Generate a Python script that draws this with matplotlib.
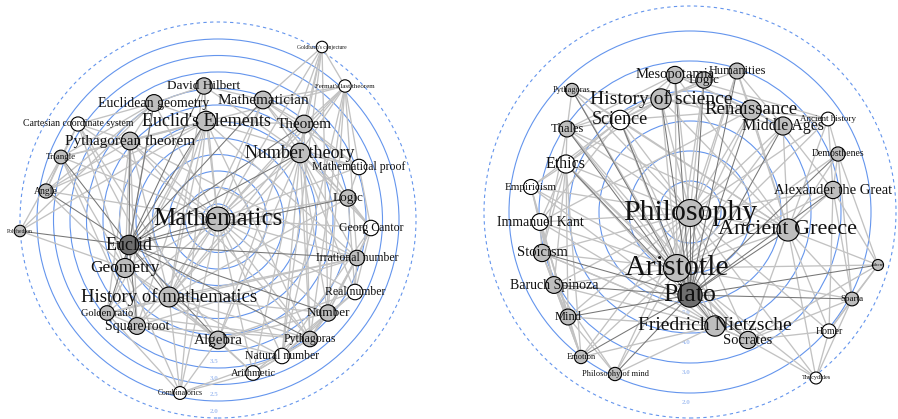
import numpy as np
import matplotlib
matplotlib.use("Agg")
import matplotlib.pyplot as plt
from matplotlib.patches import Circle

plt.rcParams['font.family'] = ['Liberation Serif', 'DejaVu Serif']

# ---- left network: mathematics ----
math_names = ["Mathematics", "Euclid", "Geometry", "History of mathematics",
	"Euclid's Elements", "Number theory", "Pythagorean theorem", "Euclidean geometry",
	"Mathematician", "David Hilbert", "Theorem", "Mathematical proof", "Logic",
	"Cartesian coordinate system", "Triangle", "Angle", "Goldbach's conjecture",
	"Fermat's last theorem", "Georg Cantor", "Polyhedron", "Irrational number",
	"Real number", "Golden ratio", "Number", "Square root", "Algebra", "Pythagoras",
	"Natural number", "Arithmetic", "Combinatorics"]
math_x = [0, -89, -93, -49, -12, 82, -88, -64, 45, -14, 86, 141, 130, -140, -157,
	-172, 104, 127, 153, -198, 139, 137, -111, 110, -81, 0, 92, 64, 35, -38]
math_y = [1, -25, -48, -77, 99, 67, 79, 117, 120, 134, 96, 53, 22, 96, 63,
	29, 173, 134, -8, -11, -38, -72, -93, -93, -106, -120, -119, -136, -153, -173]
# 0 = not in set, 1 = in set, 2 = focus
math_kind = [1, 2, 1, 1, 1, 1, 1, 1, 1, 1, 1, 0, 1, 0, 1, 1, 0, 0, 0, 1,
	1, 0, 1, 1, 1, 1, 1, 0, 0, 0]
math_degree = [36, 26, 25, 27, 26, 26, 22, 20, 22, 19, 22, 17, 19, 14, 13, 14, 8,
	10, 17, 8, 17, 17, 15, 19, 20, 22, 17, 17, 15, 11]
math_focus = 1
math_edges = {
	0: [2, 3, 4, 5, 6, 7, 8, 9, 10, 11, 12, 13, 14, 15, 16, 17, 18, 20, 21, 22, 23, 24, 25, 26, 27, 28, 29],
	1: [0, 2, 3, 4, 5, 6, 7, 8, 9, 10, 12, 14, 15, 19, 20, 22, 23, 24, 25, 26],
	2: [4, 6, 7, 13, 14, 15, 19, 22, 24, 25, 29],
	3: [2, 4, 5, 6, 8, 9, 12, 13, 17, 20, 22, 23, 24, 25, 26, 27, 28, 29],
	4: [6, 7, 9, 10, 11, 14, 15, 19, 20, 22, 24, 26, 29],
	5: [8, 9, 10, 11, 12, 16, 17, 18, 20, 21, 23, 25, 26, 27, 28],
	6: [7, 13, 14, 15, 17, 20, 22, 24, 26],
	7: [9, 13, 14, 15, 19],
	8: [9, 10, 11, 16, 17, 18],
	10: [11, 12, 16, 17, 26],
	11: [12, 17, 18],
	12: [18, 21],
	13: [14, 15, 25],
	14: [15, 19, 24],
	16: [17, 23, 25, 27],
	17: [20, 23, 26, 27],
	18: [20, 21, 23, 27],
	20: [21, 22, 23, 24, 26],
	21: [23, 25, 27],
	22: [24, 26, 29],
	23: [25, 26, 27, 28],
	25: [24, 27, 28, 29],
	26: [24, 27, 28],
	27: [28, 29],
	28: [29],
}
math_rings = [2.0, 2.5, 3.0, 3.5, 4.0, 4.5, 5.0, 5.5, 6.0, 6.5, 7.0, 7.5]
math_ring_labels = [2.0, 2.5, 3.0, 3.5]

# ---- right network: philosophy ----
phil_names = ["Philosophy", "Aristotle", "Plato", "Ancient Greece", "Friedrich Nietzsche",
	"History of science", "Science", "Renaissance", "Middle Ages", "Socrates",
	"Mesopotamia", "Logic", "Humanities", "Immanuel Kant", "Stoicism", "Baruch Spinoza",
	"Mind", "Ethics", "Thales", "Alexander the Great", "Empiricism", "Homer", "Sparta",
	"Demosthenes", "Ancient history", "Pythagoras", "Emotion", "Philosophy of mind",
	"Thucydides", "Athens"]
phil_x = [0, -13, 0, 98, 25, -29, -70, 61, 93, 58, -15, 14, 47, -150, -148, -136,
	-122, -124, -123, 143, -159, 139, 162, 148, 138, -118, -109, -75, 126, 188]
phil_y = [-1, -56, -83, -18, -114, 113, 92, 102, 86, -128, 137, 132, 141, -10, -41,
	-73, -105, 48, 83, 22, 25, -119, -87, 58, 93, 122, -145, -162, -166, -53]
phil_kind = [1, 1, 2, 1, 1, 1, 0, 1, 1, 1, 1, 1, 1, 0, 1, 1, 1, 0, 1, 1, 0, 0, 1,
	1, 0, 1, 1, 1, 0, 1]
phil_degree = [43, 43, 37, 32, 28, 28, 26, 27, 23, 21, 21, 19, 18, 20, 21, 20, 18,
	23, 18, 21, 16, 14, 13, 14, 13, 12, 12, 12, 9, 7]
phil_focus = 2
phil_edges = {
	2: [0, 1, 3, 4, 5, 6, 7, 8, 9, 10, 11, 12, 14, 15, 16, 17, 18, 19, 22, 23, 25, 26, 27, 29],
	0: [1, 3, 4, 5, 6, 7, 8, 9, 10, 11, 12, 13, 14, 15, 16, 17, 18, 19, 20, 21, 24, 25, 26, 27, 28],
	1: [3, 4, 5, 6, 7, 8, 9, 10, 11, 12, 13, 14, 15, 16, 17, 18, 19, 20, 22, 23, 24, 25, 26, 27, 28, 29],
	3: [5, 6, 7, 8, 9, 10, 12, 18, 19, 21, 22, 23, 24, 25, 28, 29],
	4: [6, 9, 13, 14, 15, 16, 17, 20, 26, 27],
	5: [6, 7, 8, 10, 11, 12, 17, 18, 24, 25],
	6: [7, 10, 11, 13, 17, 18, 20, 25],
	7: [8, 10, 12, 13, 24],
	8: [10, 12, 19, 24],
	9: [14, 17, 18, 21, 22, 28, 29],
	13: [14, 15, 16, 17, 20, 26],
	14: [15, 16, 17, 18, 26],
	15: [16, 17, 20, 26, 27],
	16: [17, 20, 26, 27],
	17: [18, 20, 26],
	18: [10, 25],
	19: [21, 22, 23, 24, 29],
	21: [22, 28, 29],
	22: [23, 28, 29],
	23: [24, 29],
	24: [10],
}
phil_rings = [2.0, 3.0, 4.0, 5.0, 6.0, 7.0]
phil_ring_labels = [2.0, 3.0, 4.0, 5.0]

FILL = {0: "white", 1: "#BEBEBE", 2: "#6E6E6E"}
RING = "#6495ED"


def draw_panel(ax, names, xs, ys, kind, degree, edges, focus, rings, ring_labels,
		px_per_unit, outer):
	# concentric centrality circles, outermost ring at 181 px
	for v in rings:
		r = 181 - (v - rings[0]) * px_per_unit
		ax.add_patch(Circle((0, 0), r, fill=False, ec=RING, lw=0.8, zorder=1))
		if v in ring_labels:
			ax.text(-4, -(r + 10), "%.1f" % v, color="#A9C3F2", fontsize=5,
				fontweight="bold", ha="center", va="center", zorder=1)
	ax.add_patch(Circle((0, 0), outer, fill=False, ec=RING, lw=0.8,
		ls=(0, (3, 3)), zorder=1))

	for a, targets in edges.items():
		for b in targets:
			dark = focus in (a, b)
			ax.plot([xs[a], xs[b]], [ys[a], ys[b]],
				color="#767676" if dark else "#C2C2C2",
				lw=0.75 if dark else 0.95, zorder=3 if dark else 2,
				solid_capstyle="butt")

	for i, name in enumerate(names):
		rad = 4 + 0.22 * degree[i]
		ax.add_patch(Circle((xs[i], ys[i]), rad, fc=FILL[kind[i]], ec="black",
			lw=0.8, zorder=4))
	for i, name in enumerate(names):
		ax.text(xs[i], ys[i], name, fontsize=degree[i] / 2, ha="center",
			va="center", color="#111111", zorder=5)


fig = plt.figure(figsize=(8.98, 4.19), dpi=100)

ax1 = fig.add_axes([0, 0, 0.5, 1])
draw_panel(ax1, math_names, math_x, math_y, math_kind, math_degree, math_edges,
	math_focus, math_rings, math_ring_labels, 33, 198)
ax1.set_xlim(-218, 231)
ax1.set_ylim(-199, 220)

ax2 = fig.add_axes([0.5, 0, 0.5, 1])
draw_panel(ax2, phil_names, phil_x, phil_y, phil_kind, phil_degree, phil_edges,
	phil_focus, phil_rings, phil_ring_labels, 30, 206)
ax2.set_xlim(-241, 208)
ax2.set_ylim(-207, 212)

for ax in (ax1, ax2):
	ax.set_aspect("auto")
	ax.axis("off")

fig.savefig("out.png", dpi=100)
